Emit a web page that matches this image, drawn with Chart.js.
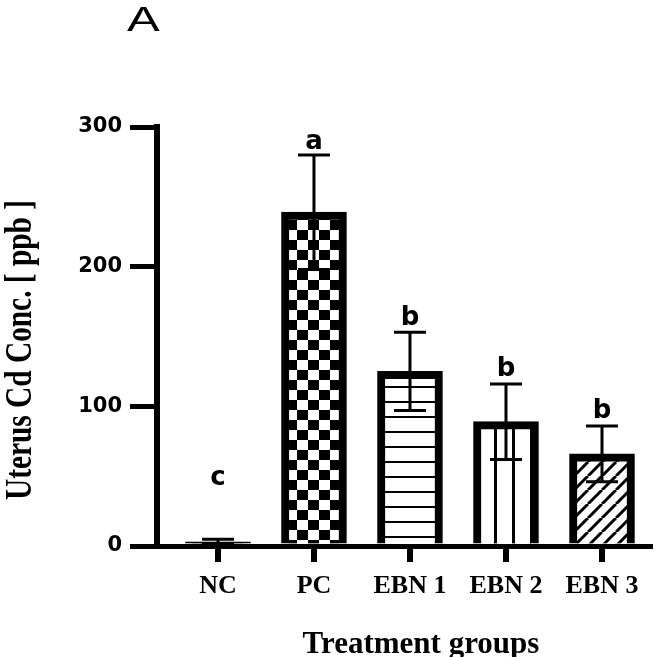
<!DOCTYPE html>
<html><head><meta charset="utf-8">
<script src="https://cdn.jsdelivr.net/npm/chart.js@4.4.1/dist/chart.umd.min.js"></script>
<style>html,body{margin:0;padding:0;background:#fff}#wrap{width:669px;height:657px;position:relative}</style>
</head><body><div id="wrap"><canvas id="c"></canvas></div>
<script>
// ---- data ----
const categories = ['NC', 'PC', 'EBN 1', 'EBN 2', 'EBN 3'];
const means = [3, 239, 125, 89, 66];
const sds = [1.8, 41, 28, 27, 20];
const letters = ['c', 'a', 'b', 'b', 'b'];
const letterAt = [44, 284, 158, 122, 92];
const yTicks = [0, 100, 200, 300];

const canvas = document.getElementById('c');
const mainCtx = canvas.getContext('2d');

function makePattern(w, h, draw) {
  const t = document.createElement('canvas');
  t.width = w; t.height = h;
  const x = t.getContext('2d');
  x.fillStyle = '#fff'; x.fillRect(0, 0, w, h);
  x.fillStyle = '#000'; x.strokeStyle = '#000';
  draw(x, w, h);
  return mainCtx.createPattern(t, 'repeat');
}
const checker = makePattern(22, 20, (x) => { x.fillRect(0, 0, 11, 10); x.fillRect(11, 10, 11, 10); });
const hLines = makePattern(10, 15, (x) => { x.fillRect(0, 11, 10, 2); });
const vLines = makePattern(18, 10, (x) => { x.fillRect(8, 0, 3, 10); });
const diag = makePattern(14, 14, (x, w, h) => {
  x.lineWidth = 3;
  x.beginPath();
  for (let k = -1; k <= 1; k++) { x.moveTo(k * w, h); x.lineTo(k * w + w, 0); }
  x.stroke();
});
const fills = ['#000000', checker, hLines, vLines, diag];

const overlay = {
  id: 'overlay',
  afterDatasetsDraw(chart) {
    const { ctx } = chart;
    const xs = chart.scales.x, ys = chart.scales.y;
    ctx.save();
    ctx.strokeStyle = '#000';
    ctx.lineWidth = 3;
    means.forEach((m, i) => {
      const cx = xs.getPixelForValue(i);
      const top = ys.getPixelForValue(m + sds[i]);
      const bot = ys.getPixelForValue(Math.max(0, m - sds[i]));
      ctx.beginPath();
      ctx.moveTo(cx, top); ctx.lineTo(cx, bot);
      ctx.moveTo(cx - 16, top); ctx.lineTo(cx + 16, top);
      ctx.moveTo(cx - 16, bot); ctx.lineTo(cx + 16, bot);
      ctx.stroke();
    });
    ctx.fillStyle = '#000';
    ctx.font = 'bold 26px "DejaVu Sans"';
    ctx.textAlign = 'center';
    ctx.textBaseline = 'alphabetic';
    letters.forEach((l, i) => ctx.fillText(l, xs.getPixelForValue(i), ys.getPixelForValue(letterAt[i])));
    ctx.restore();
  },
  afterDraw(chart) {
    const { ctx } = chart;
    ctx.save();
    ctx.fillStyle = '#000';
    ctx.textBaseline = 'alphabetic';
    // panel letter
    ctx.save();
    ctx.translate(127, 31);
    ctx.scale(1.4, 1);
    ctx.font = '35px "Liberation Sans"';
    ctx.textAlign = 'left';
    ctx.fillText('A', 0, 0);
    ctx.restore();
    // y title
    ctx.save();
    ctx.translate(31, 350);
    ctx.rotate(-Math.PI / 2);
    ctx.font = 'bold 38px "Liberation Serif"';
    const w = ctx.measureText('Uterus Cd Conc. [ ppb ]').width;
    ctx.scale(300 / w, 1);
    ctx.textAlign = 'center';
    ctx.fillText('Uterus Cd Conc. [ ppb ]', 0, 0);
    ctx.restore();
    // x title
    ctx.font = 'bold 31px "Liberation Serif"';
    ctx.textAlign = 'center';
    ctx.fillText('Treatment groups', 421, 653);
    ctx.restore();
  }
};

new Chart(canvas, {
  type: 'bar',
  data: {
    datasets: [{
      data: means.map((m, i) => ({ x: i, y: m })),
      backgroundColor: fills,
      borderColor: '#000',
      borderWidth: 8,
      barThickness: 65,
      borderSkipped: 'start'
    }]
  },
  options: {
    responsive: true,
    maintainAspectRatio: false,
    animation: false,
    layout: { padding: { left: 0, right: 19, top: 127, bottom: 0 } },
    plugins: { legend: { display: false }, tooltip: { enabled: false } },
    scales: {
      x: {
        type: 'linear', min: -0.635, max: 4.5, offset: false,
        afterBuildTicks(s) { s.ticks = categories.map((c, i) => ({ value: i })); },
        afterFit(s) { s.height = 111; },
        ticks: {
          autoSkip: false, maxRotation: 0, color: '#000', padding: 9,
          font: { family: '"Liberation Serif"', weight: 'bold', size: 26 },
          callback: (v) => categories[Math.round(v)]
        },
        grid: { drawOnChartArea: false, tickLength: 16, lineWidth: 6, color: '#000', offset: false },
        border: { display: true, color: '#000', width: 5 }
      },
      y: {
        min: 0, max: 300,
        afterBuildTicks(s) { s.ticks = yTicks.map(v => ({ value: v })); },
        afterFit(s) { s.width = 157; },
        ticks: { color: '#000', padding: 8, font: { family: '"DejaVu Sans"', weight: 'bold', size: 21 } },
        grid: { drawOnChartArea: false, tickLength: 27, lineWidth: 5, color: '#000' },
        border: { color: '#000', width: 6 }
      }
    }
  },
  plugins: [overlay]
});
</script>
</body></html>
